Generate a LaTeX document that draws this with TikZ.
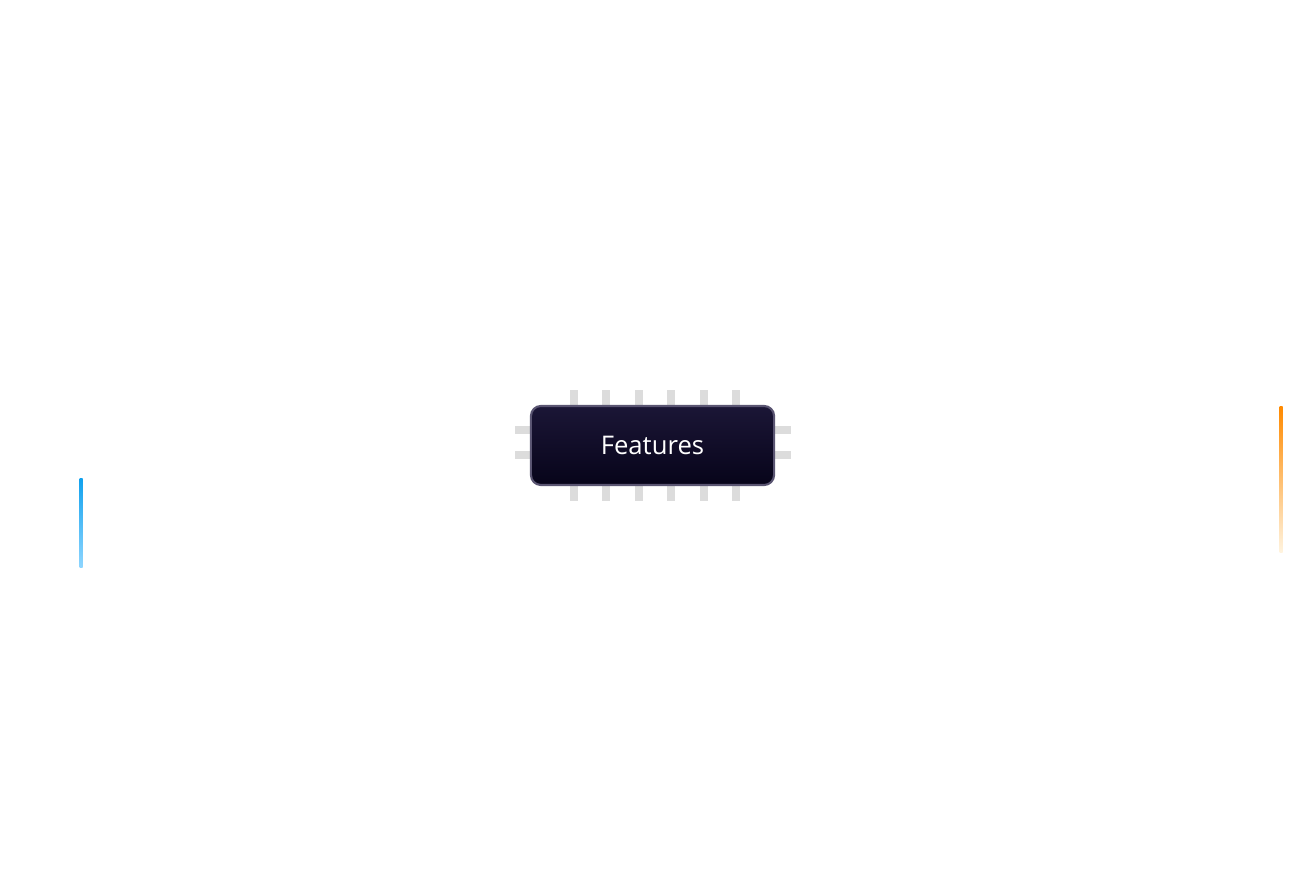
\documentclass[tikz,border=0pt]{standalone}
\usepackage{fontspec}
\setmainfont{Open Sans}
\usetikzlibrary{positioning}

\definecolor{chiptop}{HTML}{1B1636}
\definecolor{chipbot}{HTML}{07041A}
\definecolor{chipedge}{HTML}{5A5572}
\definecolor{pingrey}{HTML}{DCDCDC}
\definecolor{bluetop}{HTML}{12A2EE}
\definecolor{bluebot}{HTML}{8FD6FF}
\definecolor{orangetop}{HTML}{FF8A00}
\definecolor{orangebot}{HTML}{FFF4E0}

\begin{document}
\begin{tikzpicture}[
                x=0.01cm, y=-0.01cm,
                pin/.style={fill=pingrey},
                chip/.style={rectangle, rounded corners=10*0.01cm, draw=chipedge, line width=0.6pt,
                    top color=chiptop, bottom color=chipbot,
                    minimum width=2.43cm, minimum height=0.79cm,
                    text=white, font=\fontsize{7.3}{8}\selectfont}
            ]
                \useasboundingbox (0,0) rectangle (1303,886);

                % Pins top and bottom
                \foreach \px in {574,606,639,671,704,736} {
                    \fill[pin] (\px-4,390) rectangle (\px+4,407);
                    \fill[pin] (\px-4,484) rectangle (\px+4,501);
                }
                % Pins left and right
                \foreach \py in {430,455} {
                    \fill[pin] (515,\py-4) rectangle (532,\py+4);
                    \fill[pin] (773,\py-4) rectangle (791,\py+4);
                }

                % Chip
                \node[chip] (features) at (652.5,445.5) {Features};

                % Side lines
                \shade[top color=bluetop, bottom color=bluebot] (79.5,479) rectangle (82.5,568);
                \shade[top color=orangetop, bottom color=orangebot] (1279.5,407) rectangle (1282.5,553);

            \end{tikzpicture}
\end{document}
